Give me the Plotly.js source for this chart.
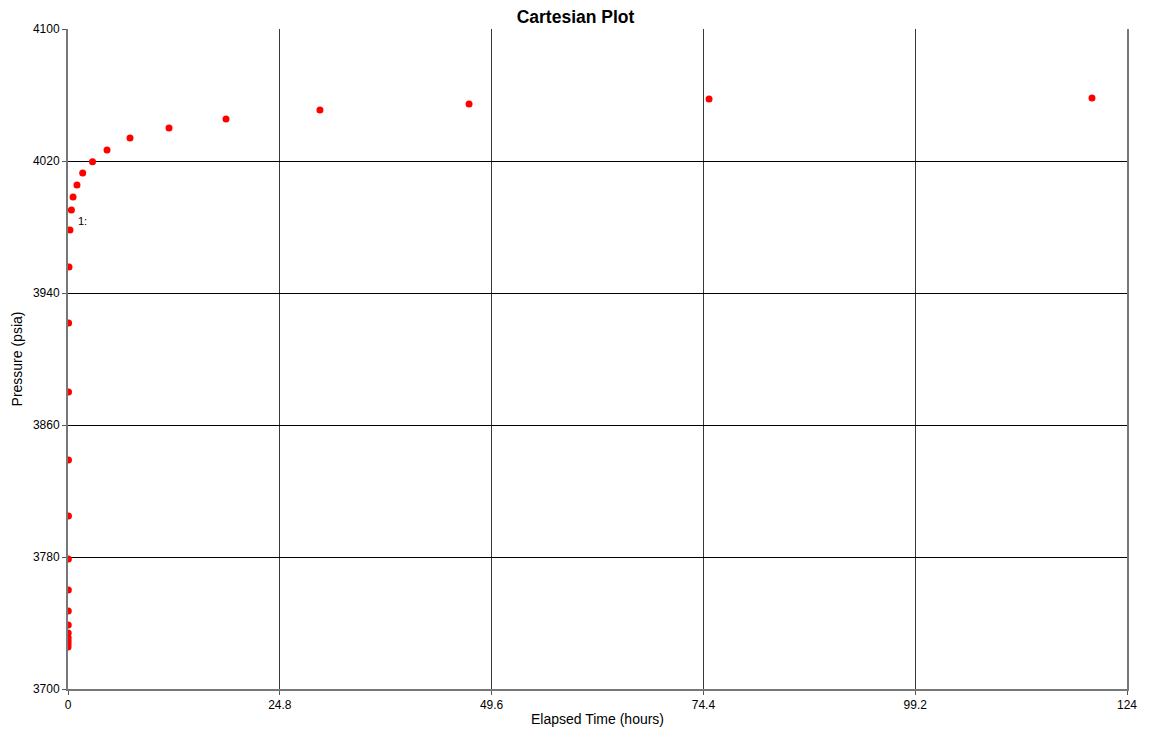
<!DOCTYPE html>
<html>
<head>
<meta charset="utf-8">
<script src="https://cdn.plot.ly/plotly-3.0.1.min.js"></script>
<style>html,body{margin:0;padding:0;background:#fff;}#chart{width:1151px;height:732px;}</style>
</head>
<body>
<div id="chart"></div>
<script>
const elapsedHours = [0.005, 0.01, 0.015, 0.02, 0.025, 0.03, 0.035, 0.04, 0.045, 0.05, 0.055, 0.06, 0.07, 0.12, 0.23, 0.40, 0.59, 1.05, 1.72, 2.87, 4.57, 7.26, 11.83, 18.5, 29.5, 46.96, 75.06, 119.9];
const pressurePsia = [3725.5, 3727.3, 3729.1, 3731.0, 3734.0, 3738.8, 3747.3, 3760.0, 3778.8, 3804.8, 3838.8, 3880.0, 3921.8, 3955.8, 3978.2, 3990.3, 3998.2, 4005.5, 4012.7, 4019.6, 4026.7, 4033.9, 4040.0, 4045.5, 4050.9, 4054.5, 4057.6, 4058.2];
const xTicks = [0, 24.8, 49.6, 74.4, 99.2, 124];
const yTicks = [3700, 3780, 3860, 3940, 4020, 4100];
const labelText = "1:";
const labelPoint = {x: 0.23, p: 3978.2};

const trace = {
  x: elapsedHours, y: pressurePsia, type: 'scatter', mode: 'markers',
  marker: {color: '#ff0000', size: 7},
  hoverinfo: 'x+y', showlegend: false
};
const font = {family: 'Liberation Sans, Arial, sans-serif', color: '#000', size: 12};
const layout = {
  width: 1151, height: 732,
  margin: {l: 68, r: 24, t: 29, b: 43},
  paper_bgcolor: '#fff', plot_bgcolor: '#fff',
  font: font,
  title: {text: '<b>Cartesian Plot</b>', font: {family: font.family, size: 17.5, color: '#000'}, x: 0.5, xanchor: 'center', y: 0.9768, yanchor: 'middle'},
  xaxis: {
    range: [0, 124], tickmode: 'array', tickvals: xTicks, ticktext: xTicks.map(String),
    showgrid: true, gridcolor: '#3a3a3a', gridwidth: 1,
    showline: true, linecolor: '#777', linewidth: 2, mirror: false,
    ticks: 'outside', ticklen: 4, tickcolor: '#555',
    zeroline: false,
    title: {text: 'Elapsed Time (hours)', font: {family: font.family, size: 14, color: '#000'}, standoff: 3},
    tickfont: {family: font.family, size: 12, color: '#000'}
  },
  yaxis: {
    range: [3700, 4100], tickmode: 'array', tickvals: yTicks, ticktext: yTicks.map(String),
    showgrid: true, gridcolor: '#000', gridwidth: 1,
    showline: true, linecolor: '#777', linewidth: 2, mirror: true,
    ticks: 'outside', ticklen: 4, tickcolor: '#555',
    zeroline: false,
    title: {text: 'Pressure (psia)', font: {family: font.family, size: 14, color: '#000'}, standoff: 7},
    tickfont: {family: font.family, size: 12, color: '#000'}
  },
  annotations: [{
    x: labelPoint.x, y: labelPoint.p, xref: 'x', yref: 'y', text: labelText,
    showarrow: false, xanchor: 'left', yanchor: 'middle', xshift: 6, yshift: 9,
    font: {family: font.family, size: 11, color: '#000'}
  }]
};
Plotly.newPlot('chart', [trace], layout, {displayModeBar: false, staticPlot: true});
</script>
</body>
</html>
